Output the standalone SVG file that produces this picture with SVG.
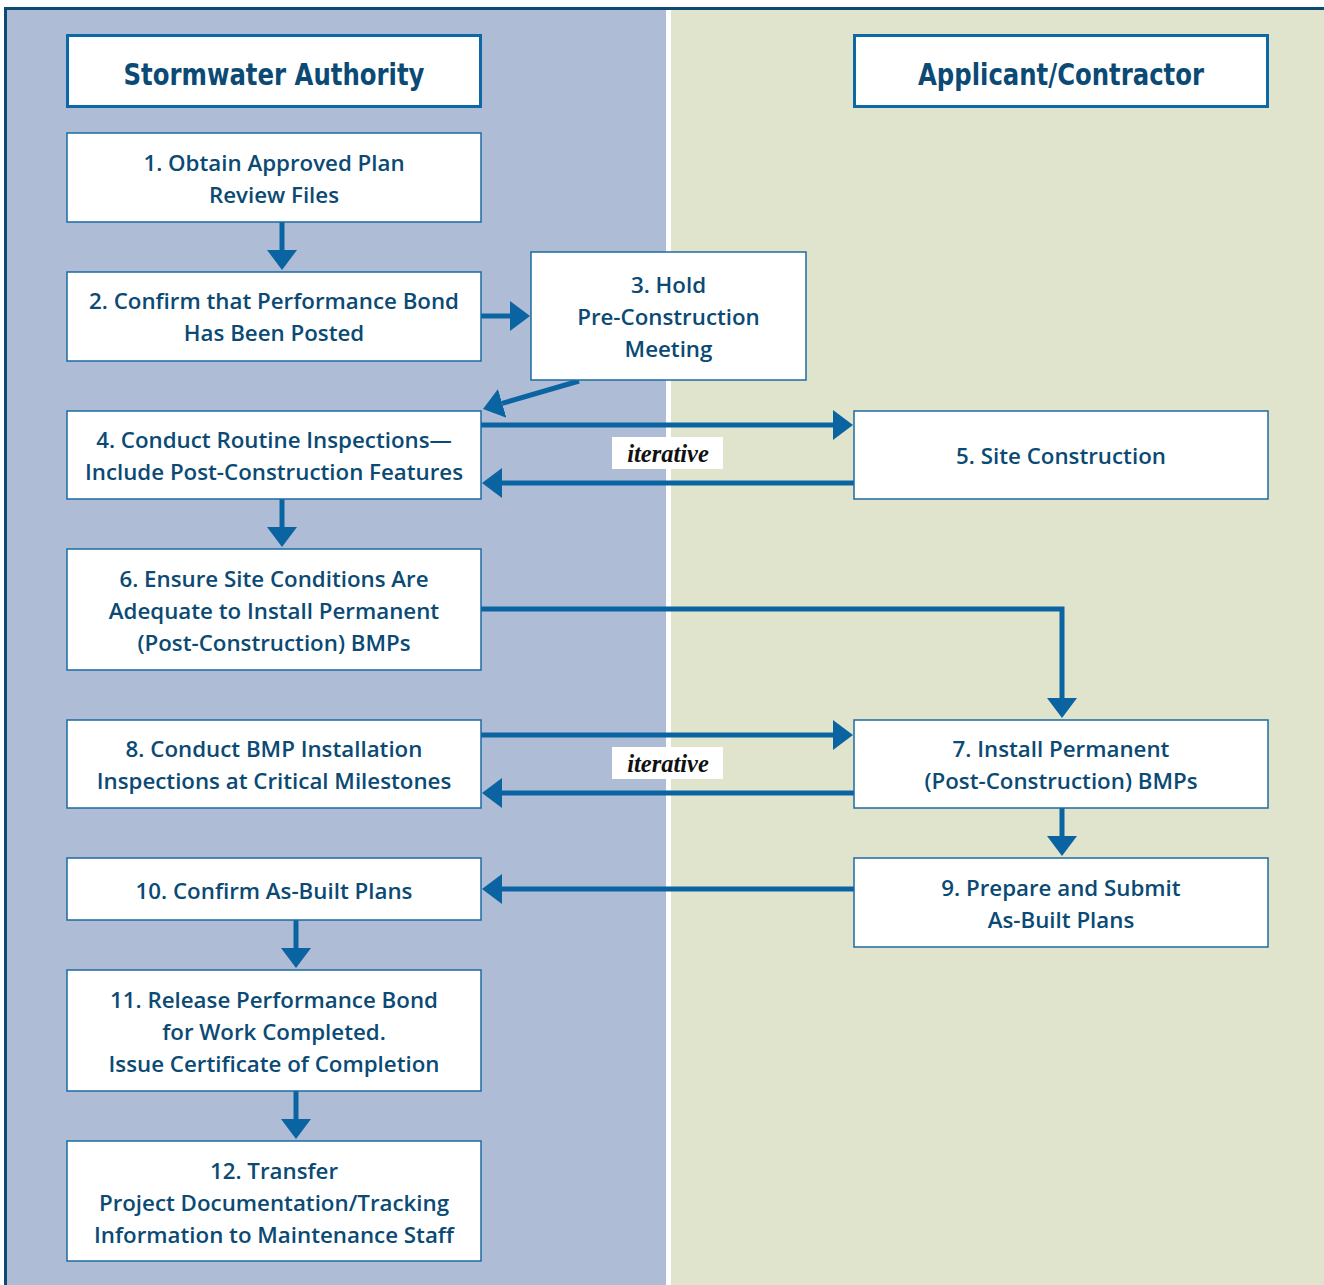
<svg xmlns="http://www.w3.org/2000/svg" width="1324" height="1285" viewBox="0 0 1324 1285">
  <defs>
    <style>
      .lane-a { fill: #afbcd5; }
      .lane-b { fill: #e0e4cc; }
      .box { fill: #ffffff; stroke: #1b6ba3; stroke-width: 1.5; }
      .head { fill: #ffffff; stroke: #0d68a6; stroke-width: 3; }
      .t { font-family: "Open Sans", "Liberation Sans", sans-serif; font-weight: 600; font-size: 22.3px; fill: #0b4a74; text-anchor: middle; }
      .h { font-family: "DejaVu Sans Condensed", "DejaVu Sans", sans-serif; font-weight: 700; font-size: 31px; fill: #0b4a74; text-anchor: middle; }
      .it { font-family: "Liberation Serif", serif; font-weight: 700; font-style: italic; font-size: 24.5px; fill: #111111; text-anchor: middle; }
      .flow { fill: none; stroke: #0b64a2; stroke-width: 5; marker-end: url(#tip); }
    </style>
    <marker id="tip" markerUnits="userSpaceOnUse" markerWidth="22" markerHeight="32" viewBox="0 -16 22 32" refX="0" refY="0" orient="auto">
      <path d="M0,-15 L20,0 L0,15 Z" fill="#0b64a2"/>
    </marker>
  </defs>

  <!-- swimlane backgrounds -->
  <rect class="lane-a" x="0" y="0" width="666" height="1285"/>
  <rect x="666" y="0" width="5" height="1285" fill="#ffffff"/>
  <rect class="lane-b" x="671" y="0" width="653" height="1285"/>
  <rect x="0" y="0" width="1324" height="7" fill="#ffffff"/>
  <rect x="0" y="0" width="4" height="1285" fill="#ffffff"/>
  <!-- outer frame -->
  <line x1="4" y1="8.5" x2="1324" y2="8.5" stroke="#0d4a72" stroke-width="3"/>
  <line x1="5.5" y1="7" x2="5.5" y2="1285" stroke="#0d4a72" stroke-width="3"/>

  <!-- connectors -->
  <g id="connectors">
    <line class="flow" x1="282" y1="222" x2="282" y2="250"/>
    <line class="flow" x1="481" y1="316" x2="510" y2="316"/>
    <line class="flow" x1="579" y1="381" x2="502.2" y2="403.4"/>
    <line class="flow" x1="481" y1="425" x2="833" y2="425"/>
    <line class="flow" x1="854" y1="483" x2="502" y2="483"/>
    <line class="flow" x1="282" y1="499" x2="282" y2="527"/>
    <polyline class="flow" points="481,609 1062,609 1062,698"/>
    <line class="flow" x1="481" y1="735" x2="833" y2="735"/>
    <line class="flow" x1="854" y1="793" x2="502" y2="793"/>
    <line class="flow" x1="1062" y1="808" x2="1062" y2="836"/>
    <line class="flow" x1="854" y1="889" x2="502" y2="889"/>
    <line class="flow" x1="296" y1="920" x2="296" y2="948"/>
    <line class="flow" x1="296" y1="1091" x2="296" y2="1119"/>
  </g>

  <!-- iterative labels -->
  <g id="iter-1">
    <rect x="612" y="437" width="111" height="32" fill="#ffffff"/>
    <text class="it" x="668" y="462">iterative</text>
  </g>
  <g id="iter-2">
    <rect x="612" y="747" width="111" height="32" fill="#ffffff"/>
    <text class="it" x="668" y="772">iterative</text>
  </g>

  <!-- lane headers -->
  <g id="hdr-authority">
    <rect class="head" x="67.5" y="35.5" width="413" height="71"/>
    <text class="h" x="274" y="85" textLength="301" lengthAdjust="spacingAndGlyphs">Stormwater Authority</text>
  </g>
  <g id="hdr-applicant">
    <rect class="head" x="854.5" y="35.5" width="413" height="71"/>
    <text class="h" x="1061" y="85" textLength="286" lengthAdjust="spacingAndGlyphs">Applicant/Contractor</text>
  </g>

  <!-- process steps -->
  <g id="step-1">
    <rect class="box" x="67" y="133" width="414" height="89"/>
    <text class="t" x="274" y="171">1. Obtain Approved Plan</text>
    <text class="t" x="274" y="203">Review Files</text>
  </g>
  <g id="step-2">
    <rect class="box" x="67" y="272" width="414" height="89"/>
    <text class="t" x="274" y="309">2. Confirm that Performance Bond</text>
    <text class="t" x="274" y="341">Has Been Posted</text>
  </g>
  <g id="step-3">
    <rect class="box" x="531" y="252" width="275" height="128"/>
    <text class="t" x="668.5" y="293">3. Hold</text>
    <text class="t" x="668.5" y="325">Pre-Construction</text>
    <text class="t" x="668.5" y="357">Meeting</text>
  </g>
  <g id="step-4">
    <rect class="box" x="67" y="411" width="414" height="88"/>
    <text class="t" x="274" y="448">4. Conduct Routine Inspections—</text>
    <text class="t" x="274" y="480">Include Post-Construction Features</text>
  </g>
  <g id="step-5">
    <rect class="box" x="854" y="411" width="414" height="88"/>
    <text class="t" x="1061" y="464">5. Site Construction</text>
  </g>
  <g id="step-6">
    <rect class="box" x="67" y="549" width="414" height="121"/>
    <text class="t" x="274" y="587">6. Ensure Site Conditions Are</text>
    <text class="t" x="274" y="619">Adequate to Install Permanent</text>
    <text class="t" x="274" y="651">(Post-Construction) BMPs</text>
  </g>
  <g id="step-7">
    <rect class="box" x="854" y="720" width="414" height="88"/>
    <text class="t" x="1061" y="757">7. Install Permanent</text>
    <text class="t" x="1061" y="789">(Post-Construction) BMPs</text>
  </g>
  <g id="step-8">
    <rect class="box" x="67" y="720" width="414" height="88"/>
    <text class="t" x="274" y="757">8. Conduct BMP Installation</text>
    <text class="t" x="274" y="789">Inspections at Critical Milestones</text>
  </g>
  <g id="step-9">
    <rect class="box" x="854" y="858" width="414" height="89"/>
    <text class="t" x="1061" y="896">9. Prepare and Submit</text>
    <text class="t" x="1061" y="928">As-Built Plans</text>
  </g>
  <g id="step-10">
    <rect class="box" x="67" y="858" width="414" height="62"/>
    <text class="t" x="274" y="899">10. Confirm As-Built Plans</text>
  </g>
  <g id="step-11">
    <rect class="box" x="67" y="970" width="414" height="121"/>
    <text class="t" x="274" y="1008">11. Release Performance Bond</text>
    <text class="t" x="274" y="1040">for Work Completed.</text>
    <text class="t" x="274" y="1072">Issue Certificate of Completion</text>
  </g>
  <g id="step-12">
    <rect class="box" x="67" y="1141" width="414" height="120"/>
    <text class="t" x="274" y="1179">12. Transfer</text>
    <text class="t" x="274" y="1211">Project Documentation/Tracking</text>
    <text class="t" x="274" y="1243">Information to Maintenance Staff</text>
  </g>
</svg>
